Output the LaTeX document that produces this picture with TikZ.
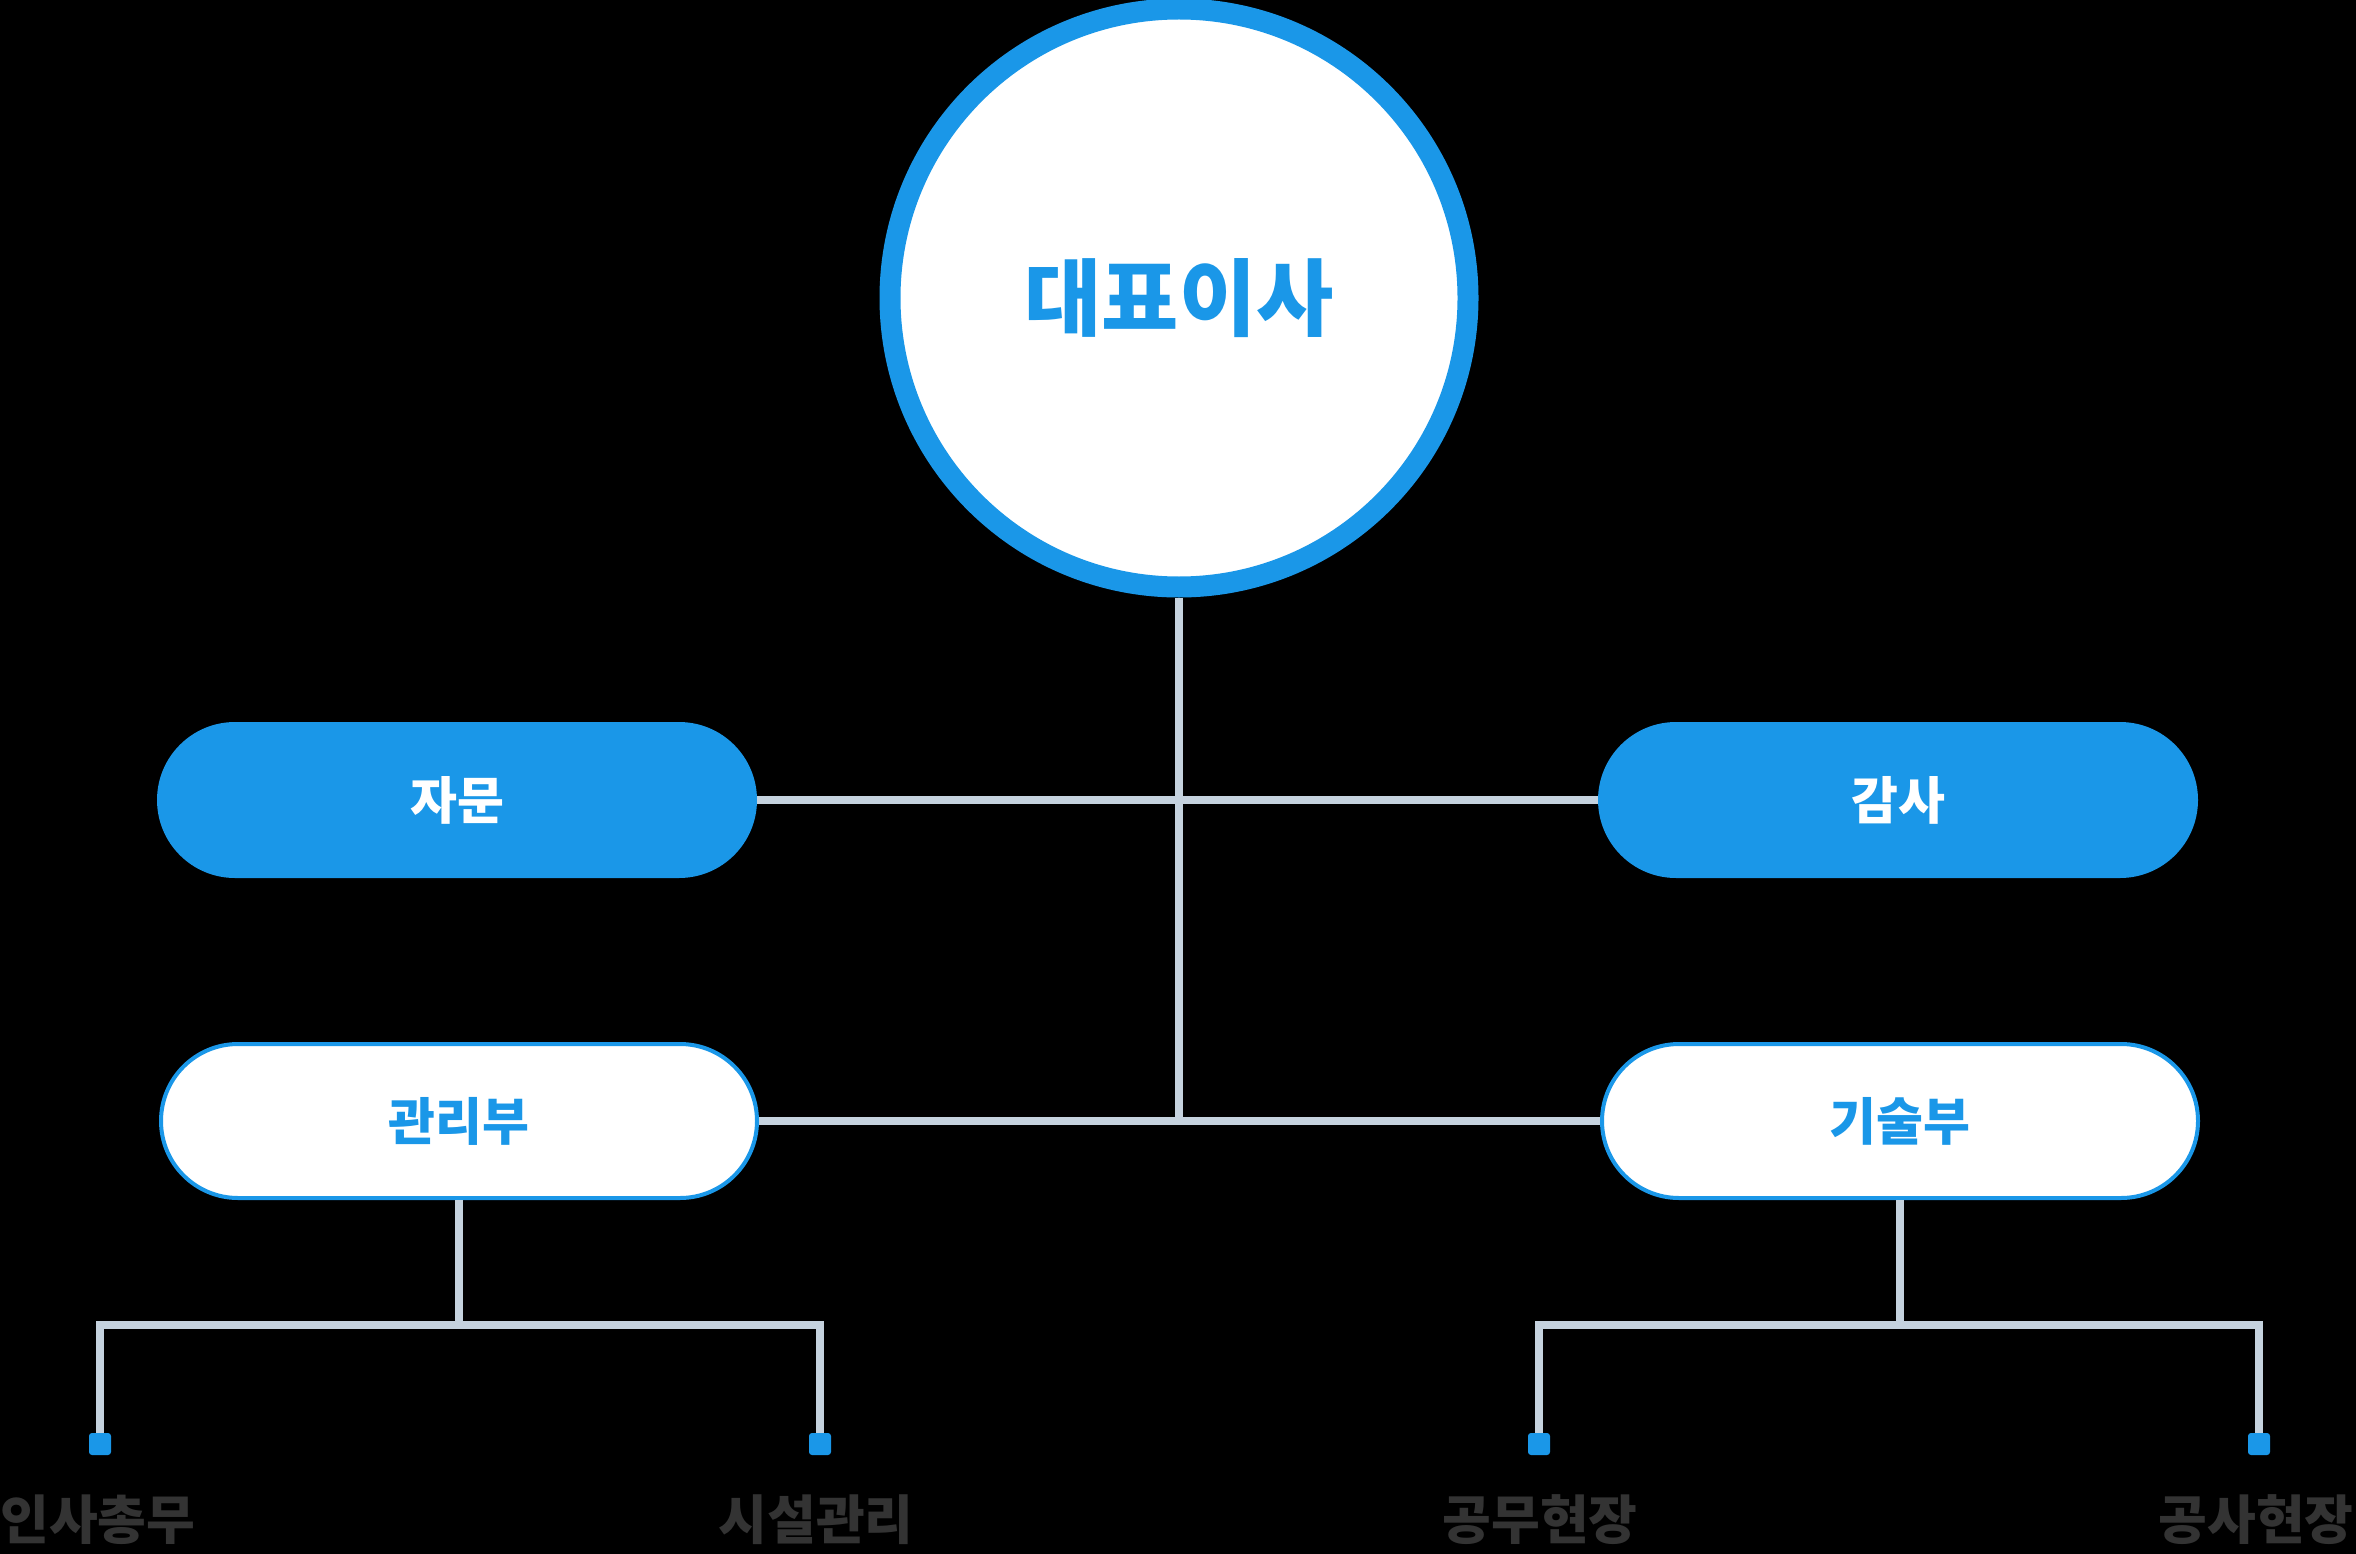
\documentclass[tikz,border=0pt]{standalone}
\usepackage{fontspec}
\newfontfamily\krfont{Noto Sans CJK KR}
\usepackage{tikz}
\usetikzlibrary{positioning}
\definecolor{mainblue}{HTML}{1A97E8}
\definecolor{linegray}{HTML}{C5D2DE}
\definecolor{teamgray}{HTML}{333333}

\begin{document}
\begin{tikzpicture}[x=1pt, y=-1pt,
    ceo/.style={circle, draw=mainblue, line width=21pt, fill=white, minimum size=578pt, inner sep=0pt, text=mainblue, font=\krfont\bfseries\fontsize{84}{100}\selectfont},
    pill/.style={rectangle, rounded corners=78pt, minimum width=600pt, minimum height=156pt, inner sep=0pt, font=\krfont\bfseries\fontsize{51}{61}\selectfont},
    side/.style={pill, fill=mainblue, text=white},
    dept/.style={pill, draw=mainblue, line width=4pt, fill=white, text=mainblue, minimum width=596pt, minimum height=154pt, rounded corners=77pt},
    link/.style={draw=linegray, line width=8pt},
    dot/.style={rectangle, rounded corners=3pt, fill=mainblue, minimum size=22pt, inner sep=0pt},
    team/.style={text=teamgray, font=\krfont\bfseries\fontsize{53}{63}\selectfont}]

% Background
\fill[black] (0,0) rectangle (2356,1554);
\useasboundingbox (0,0) rectangle (2356,1554);

% Nodes
\node [ceo] (ceo) at (1179,298) {대표이사};
\node [side] (advice) at (457,800) {자문};
\node [side] (audit) at (1898,800) {감사};
\node [dept] (admin) at (459,1121) {관리부};
\node [dept] (tech) at (1900,1121) {기술부};

% Teams
\node [dot] (d1) at (100,1444) {};
\node [dot] (d2) at (820,1444) {};
\node [dot] (d3) at (1539,1444) {};
\node [dot] (d4) at (2259,1444) {};
\node [team] (t1) at (98,1520) {인사총무};
\node [team] (t2) at (816,1520) {시설관리};
\node [team] (t3) at (1540,1520) {공무현장};
\node [team] (t4) at (2256,1520) {공사현장};

% Lines
\coordinate (hub) at (ceo.south |- admin.east);
\coordinate (adminfork) at ([yshift=-125pt]admin.south);
\coordinate (techfork) at ([yshift=-125pt]tech.south);
\draw[link] (ceo.south) -- (hub);
\draw[link] (advice.east) -- (audit.west);
\draw[link] (admin.east) -- (tech.west);
\draw[link] (admin.south) -- (adminfork);
\draw[link] (tech.south) -- (techfork);
\draw[link] (d1) |- (adminfork) -| (d2);
\draw[link] (d3) |- (techfork) -| (d4);

\end{tikzpicture}
\end{document}
